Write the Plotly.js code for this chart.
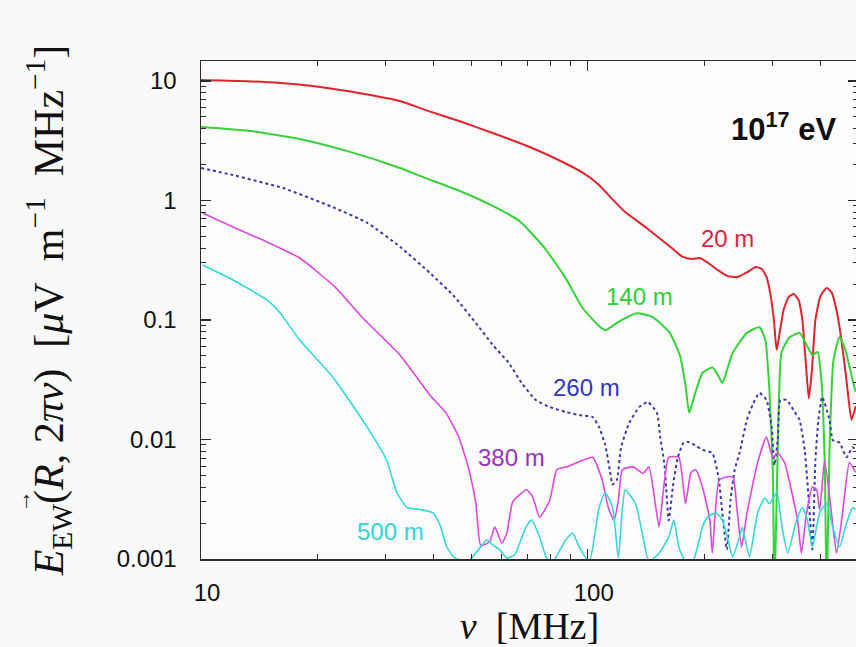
<!DOCTYPE html>
<html>
<head>
<meta charset="utf-8">
<script src="https://cdn.plot.ly/plotly-3.0.1.min.js"></script>
<style>
  html, body { margin: 0; padding: 0; background: #f9f9f9; overflow: hidden; }
  #chart { width: 860px; height: 647px; }
</style>
</head>
<body>
<div id="chart"></div>
<script>
// Frequency spectra of the east-west field component at several observer distances (10^17 eV shower)

// 20 m
const freq20 = [10, 12.6, 16.0, 20.3, 25.8, 32.7, 38.1, 46.7, 56.8, 70.8, 84.1, 98.2, 107, 115, 125, 140, 152, 165, 176, 186,
  195, 205, 217, 230, 244, 259, 272, 282, 290, 297, 303, 308, 313, 321, 331, 341, 351, 359, 366, 373,
  380, 388, 400, 415, 427, 440, 453, 467, 481, 493];
const field20 = [10.2, 10.0, 9.6, 8.9, 7.9, 6.8, 5.7, 4.6, 3.67, 2.8, 2.18, 1.67, 1.35, 1.05, 0.80, 0.61, 0.495, 0.40, 0.337, 0.324,
  0.330, 0.30, 0.262, 0.233, 0.229, 0.252, 0.278, 0.267, 0.229, 0.162, 0.100, 0.056, 0.075, 0.121, 0.156, 0.165, 0.147, 0.10, 0.046, 0.022,
  0.038, 0.10, 0.159, 0.185, 0.171, 0.121, 0.068, 0.031, 0.0146, 0.019];

// 140 m
const freq140 = [10, 13.4, 18.0, 24.3, 32.7, 38.1, 46.7, 56.8, 66.7, 77.4, 87.7, 97.0, 107, 111, 121, 134, 147, 163, 173, 179,
  183, 189, 198, 210, 217, 223, 230, 237, 258, 278, 288, 295, 301, 304, 310, 317, 332, 353, 368, 381,
  393, 402, 410, 415, 422, 432, 448, 464, 484, 493];
const field140 = [4.12, 3.82, 3.27, 2.55, 1.87, 1.54, 1.20, 0.90, 0.67, 0.40, 0.224, 0.126, 0.089, 0.082, 0.098, 0.114, 0.106, 0.078, 0.051, 0.0286,
  0.0167, 0.0235, 0.036, 0.040, 0.0347, 0.0297, 0.0396, 0.053, 0.078, 0.087, 0.068, 0.026, 0.0056, 0.0005, 0.0082, 0.053, 0.071, 0.078, 0.062, 0.051,
  0.054, 0.0315, 0.0067, 0.0005, 0.0082, 0.046, 0.072, 0.056, 0.0315, 0.025];

// 260 m
const freq260 = [10, 12.1, 16.3, 21.9, 26.9, 32.7, 39.1, 45.3, 51.4, 56.8, 62.5, 67.5, 73.4, 79.8, 87.7, 95.3, 103, 107, 111, 114,
  116, 119, 122, 128, 136, 143, 151, 154, 158, 162, 166, 171, 177, 183, 191, 198, 210, 218, 223, 229,
  234, 240, 247, 258, 267, 278, 290, 299, 304, 310, 315, 327, 343, 353, 364, 373, 381, 388, 395, 404,
  422, 430, 448, 467, 484, 493];
const field260 = [1.87, 1.63, 1.27, 0.88, 0.65, 0.41, 0.247, 0.156, 0.094, 0.062, 0.0437, 0.0297, 0.0214, 0.0187, 0.0170, 0.0160, 0.0154, 0.0127, 0.0090, 0.0056,
  0.0042, 0.0046, 0.0086, 0.0137, 0.0187, 0.0206, 0.0167, 0.0105, 0.0061, 0.0021, 0.0040, 0.0071, 0.0094, 0.0095, 0.0088, 0.0082, 0.0077, 0.0048, 0.0024, 0.0012,
  0.0031, 0.0056, 0.0077, 0.0146, 0.0195, 0.0245, 0.0214, 0.0127, 0.0061, 0.0099, 0.0214, 0.0214, 0.0170, 0.0146, 0.0082, 0.0031, 0.0012, 0.0067, 0.0146, 0.0227,
  0.0146, 0.0099, 0.0094, 0.0071, 0.0086, 0.0082];

// 380 m
const freq380 = [10.1, 12.1, 14.8, 18.0, 22.2, 26.2, 32.7, 39.1, 43.0, 46.4, 49.3, 51.4, 52.9, 55.8, 57.5, 60.0, 61.8, 64.0, 69.5, 72.1,
  75.1, 79.8, 83.2, 88.3, 97.0, 103, 109, 113, 117, 120, 123, 131, 139, 144, 150, 153, 157, 162, 172, 179,
  185, 190, 198, 207, 210, 219, 233, 238, 243, 250, 258, 275, 290, 301, 310, 323, 336, 349, 357, 368,
  381, 391, 398, 410, 427, 440, 456, 475, 493];
const field380 = [0.785, 0.60, 0.45, 0.33, 0.189, 0.104, 0.051, 0.0235, 0.0167, 0.0105, 0.0056, 0.0029, 0.0013, 0.0014, 0.00185, 0.00136, 0.00165, 0.0030, 0.0038, 0.0033,
  0.00224, 0.0031, 0.0056, 0.0059, 0.0067, 0.0071, 0.0046, 0.0027, 0.0021, 0.0031, 0.0056, 0.0059, 0.0052, 0.0059, 0.0027, 0.00185, 0.0038, 0.0071, 0.0071, 0.0029,
  0.0053, 0.0056, 0.0040, 0.0021, 0.00112, 0.0046, 0.0049, 0.0048, 0.0027, 0.00126, 0.0024, 0.0064, 0.0105, 0.0071, 0.0077, 0.0064, 0.0038, 0.0021, 0.00112, 0.0024,
  0.0040, 0.0038, 0.00257, 0.0067, 0.0024, 0.00112, 0.0024, 0.0064, 0.0053];

// 500 m
const freq500 = [10.1, 12.1, 14.8, 16.0, 18.0, 21.9, 26.9, 30.2, 32.1, 34.1, 36.8, 39.8, 41.5, 43.2, 45.3, 49.0, 52.3, 54.8, 56.8, 59.3,
  61.8, 64.7, 69.2, 71.6, 75.1, 78.3, 81.2, 87.7, 91.4, 95.3, 101, 107, 111, 116, 120, 123, 125, 133, 139, 144,
  153, 162, 167, 172, 179, 187, 198, 204, 215, 223, 233, 237, 247, 251, 262, 275, 287, 295, 308, 319,
  329, 347, 359, 370, 381, 398, 415, 430, 448, 467, 484, 493];
const field500 = [0.288, 0.216, 0.147, 0.115, 0.068, 0.0334, 0.0127, 0.0067, 0.0036, 0.0027, 0.0026, 0.00243, 0.00193, 0.00126, 0.00102, 0.00095, 0.00121, 0.00144, 0.00131, 0.00119,
  0.00102, 0.00108, 0.00185, 0.00212, 0.00153, 0.00102, 0.00095, 0.00144, 0.00165, 0.00124, 0.00095, 0.0027, 0.0036, 0.0027, 0.00102, 0.0027, 0.0038, 0.0029, 0.00153, 0.00095,
  0.00112, 0.00153, 0.00212, 0.00126, 0.00095, 0.00095, 0.00185, 0.00224, 0.00243, 0.00212, 0.00126, 0.00104, 0.00153, 0.00185, 0.00104, 0.00243, 0.00324, 0.0029, 0.0036, 0.00175,
  0.00112, 0.00212, 0.0027, 0.00212, 0.00126, 0.00243, 0.0029, 0.00185, 0.00126, 0.0020, 0.0027, 0.0026];

const distanceLabels = ['20 m', '140 m', '260 m', '380 m', '500 m'];
const xTickVals = [10, 100];
const xTickText = ['10', '100'];
const yTickVals = [0.001, 0.01, 0.1, 1, 10];
const yTickText = ['0.001', '0.01', '0.1', '1', '10'];

// minor ticks: 2..9 within each decade
function minorTicks(lo, hi) {
  const out = [];
  for (let d = lo; d < hi; d++) for (let k = 2; k <= 9; k++) out.push(k * Math.pow(10, d));
  return out;
}

const axisColor = '#2b2b2b';
const sans = 'Liberation Sans, Arial, Helvetica, sans-serif';
const serif = 'Liberation Serif, Times New Roman, serif';

const traces = [
  { x: freq20,  y: field20,  color: '#e2232e', dash: 'solid', width: 2.0 },
  { x: freq140, y: field140, color: '#36d23a', dash: 'solid', width: 2.0 },
  { x: freq260, y: field260, color: '#3b3ba8', dash: 'dot',   width: 2.0 },
  { x: freq380, y: field380, color: '#dd48dd', dash: 'solid', width: 1.6 },
  { x: freq500, y: field500, color: '#34d8d8', dash: 'solid', width: 1.6 }
].map((s, i) => ({
  type: 'scatter', mode: 'lines', name: distanceLabels[i],
  x: s.x, y: s.y,
  line: { color: s.color, width: s.width, dash: s.dash, shape: 'spline', smoothing: 0.5 },
  showlegend: false, hoverinfo: 'x+y'
}));

const labelColors = ['#e0233a', '#2fce35', '#3434c6', '#9a34bc', '#2fd6d6'];
const labelPos = [[0.802, 0.643], [0.668, 0.528], [0.586, 0.345], [0.472, 0.203], [0.289, 0.056]];

const annotations = distanceLabels.map((t, i) => ({
  text: t, xref: 'paper', yref: 'paper', x: labelPos[i][0], y: labelPos[i][1],
  xanchor: 'center', yanchor: 'middle', showarrow: false,
  font: { family: sans, size: 24, color: labelColors[i] }
}));
annotations.push({
  text: '<b>10<sup>17</sup> eV</b>', xref: 'paper', yref: 'paper', x: 0.886, y: 0.867,
  xanchor: 'center', yanchor: 'middle', showarrow: false,
  font: { family: sans, size: 31, color: '#111' }
});
// vector arrow over the R in the rotated y-axis title
annotations.push({
  text: '→', xref: 'paper', yref: 'paper', x: -0.272, y: 0.117,
  xanchor: 'center', yanchor: 'middle', showarrow: false, textangle: -90,
  font: { family: serif, size: 22, color: '#111' }
});

const layout = {
  width: 860, height: 647,
  margin: { l: 201, r: 2, t: 61, b: 88 },
  paper_bgcolor: '#f9f9f9', plot_bgcolor: '#fcfcfc',
  xaxis: {
    type: 'log', range: [1, Math.log10(500)],
    showline: true, linecolor: axisColor, linewidth: 1.5, mirror: 'allticks',
    ticks: 'inside', ticklen: 10, tickwidth: 1.3, tickcolor: axisColor,
    tickvals: xTickVals, ticktext: xTickText, ticklabelstandoff: 12, ticklabelshift: 6,
    tickfont: { family: sans, size: 24, color: '#111' },
    minor: { ticks: 'inside', ticklen: 5, tickwidth: 1, tickcolor: axisColor, tickvals: minorTicks(1, 3), showgrid: false },
    showgrid: false, zeroline: false,
    title: { text: '<i>ν</i>\u00A0\u00A0[MHz]', font: { family: serif, size: 38, color: '#111' }, standoff: 0 }
  },
  yaxis: {
    type: 'log', range: [-3, 1.167],
    showline: true, linecolor: axisColor, linewidth: 1.5, mirror: 'allticks',
    ticks: 'inside', ticklen: 10, tickwidth: 1.3, tickcolor: axisColor,
    tickvals: yTickVals, ticktext: yTickText, ticklabelstandoff: 18,
    tickfont: { family: sans, size: 24, color: '#111' },
    minor: { ticks: 'inside', ticklen: 5, tickwidth: 1, tickcolor: axisColor, tickvals: minorTicks(-3, 2), showgrid: false },
    showgrid: false, zeroline: false,
    title: {
      text: '<i>E</i><sub>EW</sub>(<i>R</i>,\u00A02<i>πν</i>)\u00A0\u00A0[<i>μ</i>V\u00A0\u00A0m<sup>−1</sup>\u00A0\u00A0MHz<sup>−1</sup>]',
      font: { family: serif, size: 42, color: '#111' }, standoff: 40
    }
  },
  annotations: annotations
};

Plotly.newPlot('chart', traces, layout, { displayModeBar: false, staticPlot: true });
</script>
</body>
</html>
